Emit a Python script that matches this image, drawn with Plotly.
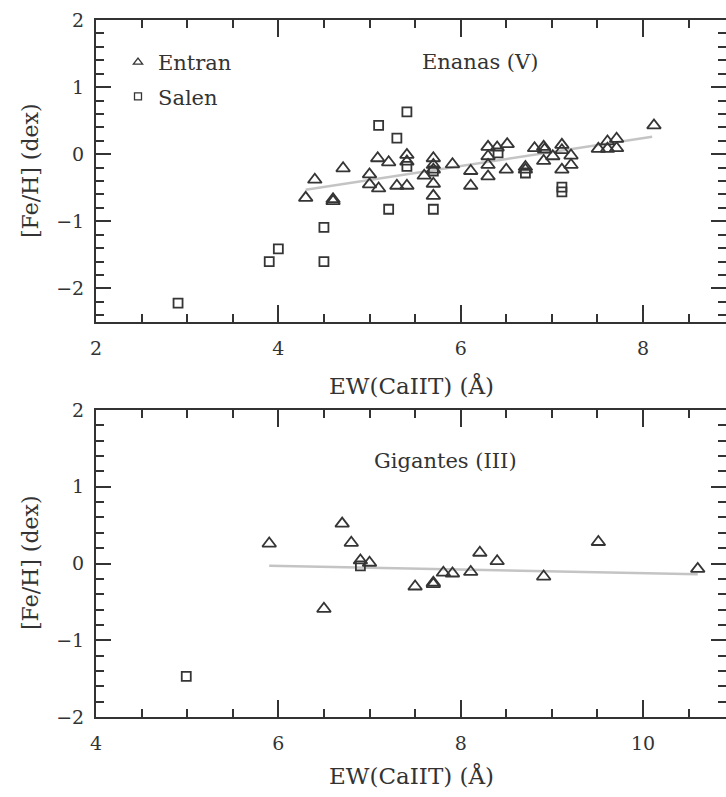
import plotly.graph_objects as go

# ---- Data ----
# Top panel: Enanas (V)
dw_tri_x = [4.30, 4.40, 4.60, 4.60, 4.71, 5.00, 5.00, 5.09, 5.10, 5.21, 5.30, 5.41, 5.41, 5.41,
            5.60, 5.70, 5.70, 5.70, 5.70, 5.70, 5.91, 6.11, 6.11, 6.30, 6.30, 6.30, 6.30, 6.40,
            6.51, 6.50, 6.71, 6.71, 6.81, 6.91, 6.92, 6.91, 7.01, 7.11, 7.11, 7.11, 7.21, 7.21,
            7.51, 7.61, 7.61, 7.71, 7.71, 8.12]
dw_tri_y = [-0.65, -0.38, -0.67, -0.70, -0.21, -0.30, -0.45, -0.06, -0.51, -0.12, -0.47, -0.47, -0.01, -0.11,
            -0.32, -0.06, -0.16, -0.23, -0.44, -0.62, -0.15, -0.25, -0.47, 0.11, -0.03, -0.16, -0.33, 0.10,
            0.15, -0.23, -0.19, -0.23, 0.09, 0.11, 0.07, -0.10, -0.03, 0.14, 0.06, -0.23, -0.02, -0.16,
            0.08, 0.19, 0.08, 0.23, 0.09, 0.43]
dw_sq_x = [5.10, 5.30, 5.41, 5.41, 5.70, 6.41, 6.71, 7.11, 7.11, 5.21, 5.70, 4.50, 4.00, 3.90, 4.50, 2.90]
dw_sq_y = [0.43, 0.24, 0.63, -0.18, -0.25, 0.02, -0.28, -0.49, -0.56, -0.82, -0.82, -1.09, -1.41, -1.60, -1.60, -2.22]
dw_fit_x = [4.3, 8.1]
dw_fit_y = [-0.53, 0.26]

# Bottom panel: Gigantes (III)
gi_tri_x = [5.90, 6.50, 6.70, 6.80, 6.90, 7.00, 7.50, 7.70, 7.70, 7.81, 7.91, 8.11, 8.21, 8.40, 8.91, 9.51, 10.60]
gi_tri_y = [0.26, -0.59, 0.52, 0.27, 0.04, 0.01, -0.30, -0.25, -0.27, -0.12, -0.13, -0.11, 0.14, 0.03, -0.17, 0.28, -0.07]
gi_sq_x = [4.99, 6.90]
gi_sq_y = [-1.47, -0.03]
gi_fit_x = [5.9, 10.6]
gi_fit_y = [-0.03, -0.14]

x_title = "EW(CaIIT) (Å)"
y_title = "[Fe/H] (dex)"
panel_titles = ["Enanas (V)", "Gigantes (III)"]
legend_names = ["Entran", "Salen"]

W, H = 726, 797
FONT = "DejaVu Serif"
INK = "#333333"
MK = "#353535"

fig = go.Figure()

def add_panel(xa, ya, tx, ty, sx, sy, fx, fy):
    fig.add_trace(go.Scatter(x=fx, y=fy, mode="lines", xaxis=xa, yaxis=ya,
                             line=dict(color="#c4c4c4", width=2.5), showlegend=False, hoverinfo="skip"))
    fig.add_trace(go.Scatter(x=tx, y=ty, mode="markers", xaxis=xa, yaxis=ya, showlegend=False,
                             marker=dict(symbol="triangle-up-open", size=12, color=MK,
                                         line=dict(width=1.8, color=MK))))
    fig.add_trace(go.Scatter(x=sx, y=sy, mode="markers", xaxis=xa, yaxis=ya, showlegend=False,
                             marker=dict(symbol="square-open", size=9, color=MK,
                                         line=dict(width=1.8, color=MK))))

add_panel("x", "y", dw_tri_x, dw_tri_y, dw_sq_x, dw_sq_y, dw_fit_x, dw_fit_y)
add_panel("x2", "y2", gi_tri_x, gi_tri_y, gi_sq_x, gi_sq_y, gi_fit_x, gi_fit_y)

# legend entries
fig.add_trace(go.Scatter(x=[None], y=[None], mode="markers", name=legend_names[0], legendgroup="a",
                         marker=dict(symbol="triangle-up-open", size=8, color=MK, line=dict(width=1.3, color=MK))))
fig.add_trace(go.Scatter(x=[None], y=[None], mode="markers", name=legend_names[1], legendgroup="b",
                         marker=dict(symbol="square-open", size=7, color=MK, line=dict(width=1.3, color=MK))))

def px_y(p):
    return 1 - p / H

xdom = [96 / W, 1.0]
ydom_top = [px_y(322), px_y(20)]
ydom_bot = [px_y(717), px_y(410)]

def xax(rng, dom, anchor):
    return dict(domain=dom, range=rng, anchor=anchor, showgrid=False, zeroline=False,
                showline=True, linecolor=INK, linewidth=2, mirror="ticks",
                ticks="inside", ticklen=17, tickwidth=2, tickcolor=INK, dtick=2, tick0=0,
                minor=dict(ticks="inside", ticklen=8, tickwidth=1.8, tickcolor=INK, dtick=0.5),
                tickfont=dict(family=FONT, size=19, color=INK), ticklabelstandoff=8,
                automargin=False, fixedrange=True)

def yax(rng, dom, anchor):
    return dict(domain=dom, range=rng, anchor=anchor, showgrid=False, zeroline=False,
                showline=True, linecolor=INK, linewidth=2, mirror="ticks",
                ticks="inside", ticklen=15, tickwidth=2, tickcolor=INK, dtick=1, tick0=0,
                minor=dict(ticks="inside", ticklen=8, tickwidth=1.8, tickcolor=INK, dtick=0.2),
                tickfont=dict(family=FONT, size=19, color=INK), ticklabelstandoff=6,
                automargin=False, fixedrange=True)

fig.update_layout(
    width=W, height=H, margin=dict(l=0, r=0, t=0, b=0, autoexpand=False),
    paper_bgcolor="white", plot_bgcolor="white",
    xaxis=xax([2, 8.91], xdom, "y"),
    yaxis=yax([-2.5, 2], ydom_top, "x"),
    xaxis2=xax([4, 10.91], xdom, "y2"),
    yaxis2=yax([-2, 2], ydom_bot, "x2"),
    showlegend=True,
    legend=dict(x=118 / W, y=px_y(42), xanchor="left", yanchor="top",
                font=dict(family=FONT, size=21, color=INK), bgcolor="rgba(0,0,0,0)",
                traceorder="grouped", tracegroupgap=4, itemsizing="trace"),
)

ann = []
for yc in [385, 775]:
    ann.append(dict(text=x_title, x=(96 + 726) / 2 / W, y=px_y(yc), xref="paper", yref="paper",
                    xanchor="center", yanchor="middle", showarrow=False,
                    font=dict(family=FONT, size=23, color=INK)))
for yc in [171, 563]:
    ann.append(dict(text=y_title, x=30 / W, y=px_y(yc), xref="paper", yref="paper",
                    xanchor="center", yanchor="middle", showarrow=False, textangle=-90,
                    font=dict(family=FONT, size=22, color=INK)))
ann.append(dict(text=panel_titles[0], x=480 / W, y=px_y(62), xref="paper", yref="paper",
                xanchor="center", yanchor="middle", showarrow=False,
                font=dict(family=FONT, size=21, color=INK)))
ann.append(dict(text=panel_titles[1], x=445 / W, y=px_y(461), xref="paper", yref="paper",
                xanchor="center", yanchor="middle", showarrow=False,
                font=dict(family=FONT, size=21, color=INK)))
fig.update_layout(annotations=ann)

fig.write_html("out.html")
